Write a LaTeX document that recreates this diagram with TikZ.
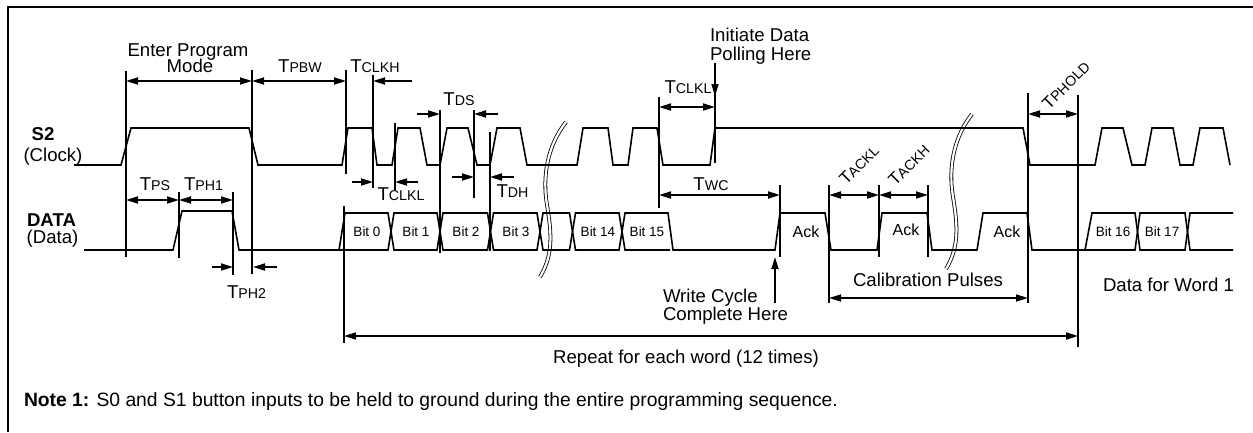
\documentclass[tikz,border=0pt]{standalone}
\usepackage{fontspec}
\setmainfont{Liberation Sans}
\usetikzlibrary{arrows.meta}
\newcommand\lblfont{\fontsize{18.6}{17}\selectfont}
\newcommand\notefont{\fontsize{19.3}{18}\selectfont}
\newcommand\subfont{\fontsize{14.2}{14}\selectfont}
\newcommand\bitfont{\fontsize{13.5}{13}\selectfont}
\newcommand\Tm[1]{T{\subfont #1}}
\begin{document}
\begin{tikzpicture}[x=1pt,y=-1pt,
  every node/.style={inner sep=0pt,outer sep=0pt},
  lbl/.style={font=\lblfont,anchor=base},
  lbll/.style={font=\lblfont,anchor=base west},
  bitl/.style={font=\bitfont,anchor=base},
  ackl/.style={font=\fontsize{16}{16}\selectfont,anchor=base},
  rotl/.style={font=\fontsize{17}{17}\selectfont,rotate=45},
  sig/.style={line width=1.6pt,line join=miter},
  marker/.style={line width=1.8pt},
  dim/.style={line width=1.7pt,{Triangle[length=12pt,width=7pt]}-{Triangle[length=12pt,width=7pt]}},
  dimr/.style={line width=1.7pt,-{Triangle[length=12pt,width=7pt]}},
  brk/.style={line width=0.8pt,double=white,double distance=2.2pt}]
\useasboundingbox (0,0) rectangle (1253,432);
% frame (top and left edges only)
\draw[line width=2pt] (8,432) -- (8,6.5) -- (1253,6.5);
% break marks
\newcommand\breakmark[1]{\draw[brk,shift={#1}] (566,122) .. controls (548,145) and (542,175) .. (547,205) .. controls (552,235) and (553,255) .. (540,277);}
\breakmark{(0,0)}
\breakmark{(406,-8)}
% signal names
\node[font=\lblfont\bfseries,anchor=base] (s2) at (43,140.7) {S2};
\node[lbl] (clk) at (53,161.5) {(Clock)};
\node[font=\lblfont\bfseries,anchor=base] (dat) at (51.5,226.7) {DATA};
\node[lbl] (datp) at (52.5,243.3) {(Data)};
% clock
\draw[sig] (74,165) -- (121,165) -- (131,128) -- (249,128) -- (258,165) -- (342,165) -- (348,128) -- (372,128) -- (377,165) -- (392,165) -- (398,128) -- (420,128) -- (427,165) -- (440,165) -- (447,128) -- (468,128) -- (477,165) -- (490,165) -- (497,128) -- (520,128) -- (527,165) -- (577,165) -- (583,128) -- (608,128) -- (613,165) -- (628,165) -- (633,128) -- (657,128) -- (663,165) -- (710,165) -- (715,128) -- (1023,128) -- (1030,165) -- (1095,165) -- (1102,128) -- (1123,128) -- (1132,165) -- (1145,165) -- (1152,128) -- (1173,128) -- (1180,165) -- (1193,165) -- (1200,128) -- (1223,128) -- (1230,165);
% data
\draw[sig] (84,250) -- (173,250) -- (182,211) -- (232,211) -- (239,250) -- (345,250);
\draw[sig] (339,250) -- (345,213) -- (388,213) -- (394,250) -- (437,250) -- (443,213) -- (487.5,213) -- (493.5,250) -- (537,250) -- (543,213) -- (569.5,213) -- (575.5,250) -- (619,250) -- (625,213) -- (668,213) -- (673,250) -- (775,250) -- (780,213) -- (825,213) -- (831,250) -- (877,250) -- (882,213) -- (927,213) -- (932,250) -- (977,250) -- (983,213) -- (1027,213) -- (1032,250) -- (1085,250) -- (1092,213) -- (1135,213) -- (1140,250) -- (1185,250) -- (1190,213) -- (1233,213);
\draw[sig] (345,250) -- (388,250) -- (394,213) -- (437,213) -- (443,250) -- (487.5,250) -- (493.5,213) -- (537,213) -- (543,250) -- (569.5,250) -- (575.5,213) -- (619,213) -- (625,250) -- (670,250);
\draw[sig] (1085,250) -- (1135,250) -- (1140,213) -- (1185,213) -- (1190,250) -- (1233,250);
% bit labels
\node[bitl] (b0) at (367,236) {Bit 0};
\node[bitl] (b1) at (416,236) {Bit 1};
\node[bitl] (b2) at (466,236) {Bit 2};
\node[bitl] (b3) at (516,236) {Bit 3};
\node[bitl] (b14) at (598,236) {Bit 14};
\node[bitl] (b15) at (647,236) {Bit 15};
\node[bitl] (b16) at (1113,236) {Bit 16};
\node[bitl] (b17) at (1162,236) {Bit 17};
\node[ackl] (ack1) at (806,237) {Ack};
\node[ackl] (ack2) at (906,235) {Ack};
\node[ackl] (ack3) at (1007,237) {Ack};
% marker lines
\foreach \x/\a/\b in {126/71/257, 252/70/274, 179/192/258, 233/192/275, 346/70/174, 344/206/343, 373/75/188, 395/123/190, 440/110/253, 474/110/198, 490/132/251, 659/97/208, 715/93/163, 780/185/257, 829/185/303, 879/185/257, 928/185/257, 1028/93/303, 1078/95/347}
  \draw[marker] (\x,\a) -- (\x,\b);
% dimension arrows
\coordinate (epmA) at (126,81); \coordinate (epmB) at (252,81); \coordinate (pbwB) at (346,81);
\draw[dim] (epmA) -- (epmB);
\draw[dim] (epmB) -- (pbwB);
\coordinate (clkhS) at (412,81); \coordinate (clkhE) at (373,81);
\draw[dimr] (clkhS) -- (clkhE);
\coordinate (psA) at (126,200); \coordinate (psB) at (179,200); \coordinate (phB) at (233,200);
\draw[dim] (psA) -- (psB);
\draw[dim] (psB) -- (phB);
\coordinate (ph2a) at (212,267); \coordinate (ph2b) at (233,267); \coordinate (ph2c) at (277,267); \coordinate (ph2d) at (253,267);
\draw[dimr] (ph2a) -- (ph2b);
\draw[dimr] (ph2c) -- (ph2d);
\coordinate (cl1a) at (352,182); \coordinate (cl1b) at (373,182); \coordinate (cl1c) at (418,182); \coordinate (cl1d) at (395,182);
\draw[dimr] (cl1a) -- (cl1b);
\draw[dimr] (cl1c) -- (cl1d);
\coordinate (dsa) at (417,114); \coordinate (dsb) at (440,114); \coordinate (dsc) at (498,114); \coordinate (dsd) at (474,114);
\draw[dimr] (dsa) -- (dsb);
\draw[dimr] (dsc) -- (dsd);
\coordinate (dha) at (452,177); \coordinate (dhb) at (474,177); \coordinate (dhc) at (514,177); \coordinate (dhd) at (490,177);
\draw[dimr] (dha) -- (dhb);
\draw[dimr] (dhc) -- (dhd);
\coordinate (cl2a) at (659,107); \coordinate (cl2b) at (715,107);
\draw[dim] (cl2a) -- (cl2b);
\coordinate (inA) at (715,63); \coordinate (inB) at (715,96);
\draw[dimr] (inA) -- (inB);
\coordinate (wcA) at (659,195); \coordinate (wcB) at (780,195);
\draw[dim] (wcA) -- (wcB);
\coordinate (wrA) at (775,303); \coordinate (wrB) at (775,257);
\draw[dimr] (wrA) -- (wrB);
\coordinate (akA) at (829,195); \coordinate (akB) at (879,195); \coordinate (akC) at (928,195);
\draw[dim] (akA) -- (akB);
\draw[dim] (akB) -- (akC);
\coordinate (calA) at (829,298); \coordinate (calB) at (1028,298);
\draw[dim] (calA) -- (calB);
\coordinate (phA) at (1028,114); \coordinate (phB2) at (1078,114);
\draw[dim] (phA) -- (phB2);
\coordinate (repA) at (344,336); \coordinate (repB) at (1078,336);
\draw[dim] (repA) -- (repB);
% labels
\node[lbl] (epm1) at (188,56) {Enter Program};
\node[lbl] (epm2) at (190,72.7) {Mode};
\node[lbl] (tpbw) at (300,72.7) {\Tm{PBW}};
\node[lbl] (tclkh) at (375,72) {\Tm{CLKH}};
\node[lbl] (tps) at (155,190) {\Tm{PS}};
\node[lbl] (tph1) at (203.5,190) {\Tm{PH1}};
\node[lbl] (tph2) at (246.5,298) {\Tm{PH2}};
\node[lbl] (tclkl1) at (401,200.7) {\Tm{CLKL}};
\node[lbl] (tds) at (459,105) {\Tm{DS}};
\node[lbl] (tdh) at (512.5,197.7) {\Tm{DH}};
\node[lbl] (tclkl2) at (688,93.3) {\Tm{CLKL}};
\node[lbl] (twc) at (711,190) {\Tm{WC}};
\node[lbll] (init1) at (710,41.7) {Initiate Data};
\node[lbll] (init2) at (710,60) {Polling Here};
\node[lbll] (wr1) at (663,302.7) {Write Cycle};
\node[lbll] (wr2) at (663,320.7) {Complete Here};
\node[lbl] (rep) at (686,363.3) {Repeat for each word (12 times)};
\node[lbl] (cal) at (928,286.7) {Calibration Pulses};
\node[lbll] (dfw) at (1103,291) {Data for Word 1};
\node[rotl] (tackl) at (859,165) {\Tm{ACKL}};
\node[rotl] (tackh) at (909,165) {\Tm{ACKH}};
\node[rotl] (tphold) at (1066,85) {\Tm{PHOLD}};
\node[font=\notefont,anchor=base west] (note) at (24,406.7) {\textbf{Note 1:} S0 and S1 button inputs to be held to ground during the entire programming sequence.};
\end{tikzpicture}
\end{document}
